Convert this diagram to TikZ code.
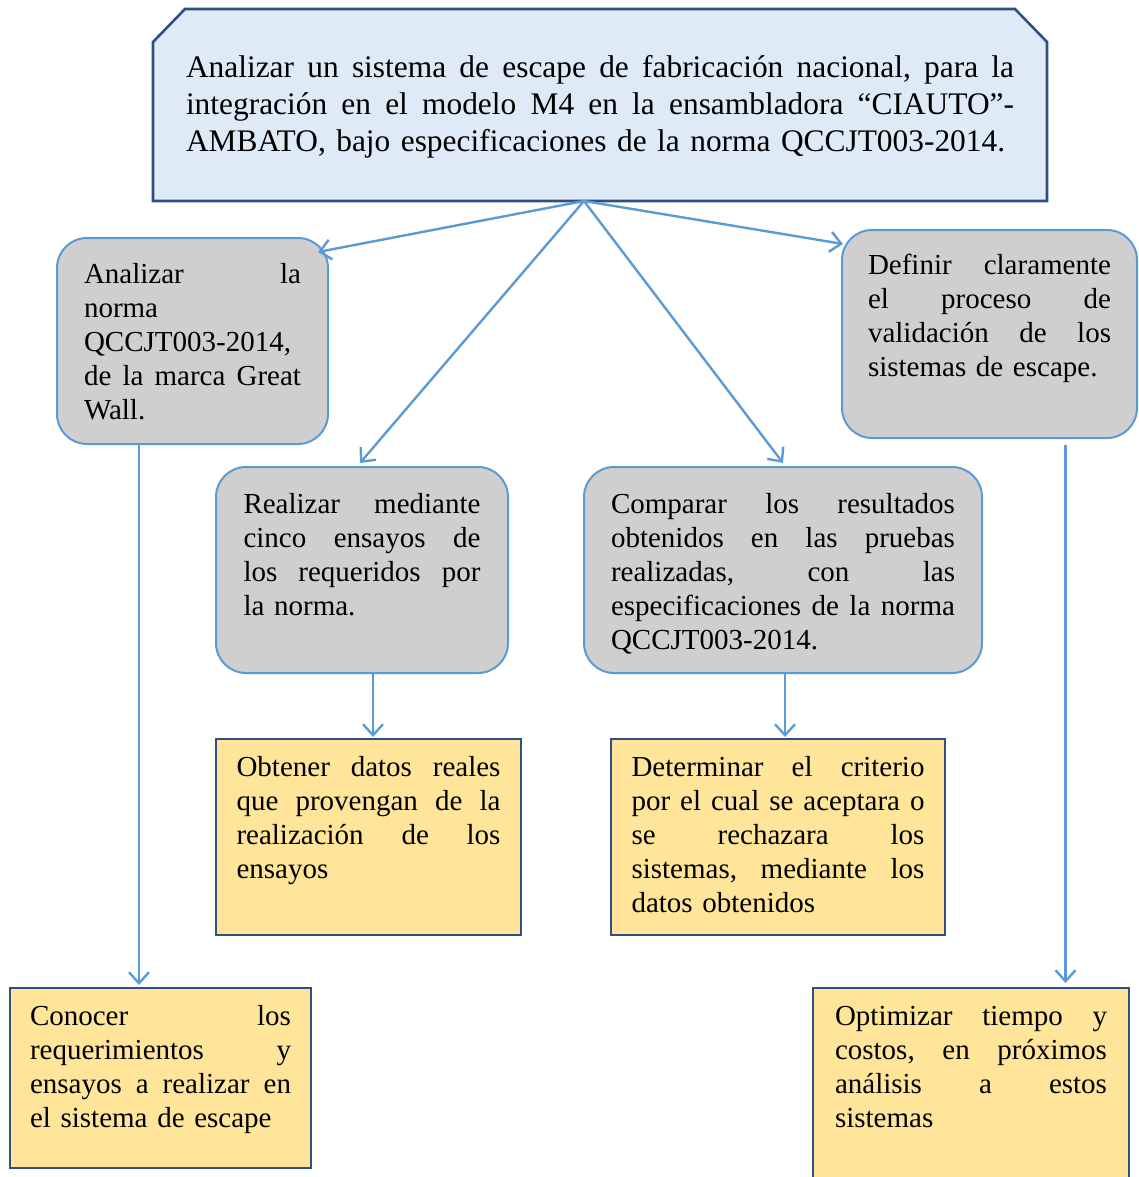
\documentclass[tikz,border=0pt]{standalone}
\usepackage{fontspec}
\setmainfont{Liberation Serif}
\usetikzlibrary{arrows.meta,backgrounds}

\definecolor{lineblue}{HTML}{5B9BD5}
\definecolor{navy}{HTML}{2F5085}
\definecolor{paleblue}{HTML}{DEEBF7}
\definecolor{greyfill}{HTML}{D0CECE}
\definecolor{sand}{HTML}{FFE599}

% one fully justified line of a box text; \lw holds the text width of the box
\def\lw{100pt}
\newcommand\jl[1]{\leavevmode\hbox to \lw{#1}}

\begin{document}
\begin{tikzpicture}[x=1pt,y=-1pt,
  tw/.style={text width=#1, execute at begin node={\def\lw{#1}}},
  txt/.style={anchor=north west, align=left, inner ysep=0pt, outer sep=0pt,
    font=\fontsize{29pt}{34pt}\selectfont},
  mainbox/.style={txt, font=\fontsize{31.4pt}{37pt}\selectfont},
  greybox/.style={txt, draw=lineblue, line width=2pt, fill=greyfill, rounded corners=30pt},
  sandbox/.style={txt, draw=navy, line width=2.6pt, fill=sand},
  arr/.style={draw=lineblue, line width=2.4pt, -{Straight Barb[length=11pt,width=20pt]}}
]
\useasboundingbox (0,0) rectangle (1138,1177);

% objective box
\node[mainbox, tw=828pt, inner xsep=33pt, text height=69pt, text depth=123pt] (top) at (153,9)
 {\jl{Analizar\hfill un\hfill sistema\hfill de\hfill escape\hfill de\hfill fabricación\hfill nacional,\hfill para\hfill la}\\
  \jl{integración\hfill en\hfill el\hfill modelo\hfill M4\hfill en\hfill la\hfill ensambladora\hfill “CIAUTO”-}\\
  AMBATO, bajo especificaciones de la norma QCCJT003-2014.};
\begin{scope}[on background layer]
  \path[draw=navy, line width=2.6pt, fill=paleblue, line join=miter]
    ([yshift=-33pt]top.north west) -- ([xshift=32pt]top.north west)
    -- ([xshift=-32pt]top.north east) -- ([yshift=-33pt]top.north east)
    -- (top.south east) -- (top.south west) -- cycle;
\end{scope}

% specific objectives
\node[greybox, tw=217pt, inner xsep=27pt, text height=45pt, text depth=161pt] (g1) at (57,238)
 {\jl{Analizar\hfill la}\\
  norma\\
  QCCJT003-2014,\\
  \jl{de\hfill la\hfill marca\hfill Great}\\
  Wall.};
\node[greybox, tw=243pt, inner xsep=26pt, text height=44pt, text depth=164pt] (g2) at (842,230)
 {\jl{Definir\hfill claramente}\\
  \jl{el\hfill proceso\hfill de}\\
  \jl{validación\hfill de\hfill los}\\
  sistemas de escape.};
\node[greybox, tw=237pt, inner xsep=27.5pt, text height=46pt, text depth=160pt] (g3) at (216,467)
 {\jl{Realizar\hfill mediante}\\
  \jl{cinco\hfill ensayos\hfill de}\\
  \jl{los\hfill requeridos\hfill por}\\
  la norma.};
\node[greybox, tw=344pt, inner xsep=27pt, text height=46pt, text depth=160pt] (g4) at (584,467)
 {\jl{Comparar\hfill los\hfill resultados}\\
  \jl{obtenidos\hfill en\hfill las\hfill pruebas}\\
  \jl{realizadas,\hfill con\hfill las}\\
  \jl{especificaciones\hfill de\hfill la\hfill norma}\\
  QCCJT003-2014.};

% expected results
\node[sandbox, tw=264pt, inner xsep=20.5pt, text height=37pt, text depth=159pt] (y1) at (216,739)
 {\jl{Obtener\hfill datos\hfill reales}\\
  \jl{que\hfill provengan\hfill de\hfill la}\\
  \jl{realización\hfill de\hfill los}\\
  ensayos};
\node[sandbox, tw=293pt, inner xsep=20.5pt, text height=37pt, text depth=159pt] (y2) at (611,739)
 {\jl{Determinar\hfill el\hfill criterio}\\
  \jl{por\hfill el\hfill cual\hfill se\hfill aceptara\hfill o}\\
  \jl{se\hfill rechazara\hfill los}\\
  \jl{sistemas,\hfill mediante\hfill los}\\
  datos obtenidos};
\node[sandbox, tw=261pt, inner xsep=20pt, text height=37pt, text depth=143pt] (y3) at (10,988)
 {\jl{Conocer\hfill los}\\
  \jl{requerimientos\hfill y}\\
  \jl{ensayos\hfill a\hfill realizar\hfill en}\\
  el sistema de escape};
\node[sandbox, tw=272pt, inner xsep=22pt, text height=37pt, text depth=200pt] (y4) at (813,988)
 {\jl{Optimizar\hfill tiempo\hfill y}\\
  \jl{costos,\hfill en\hfill próximos}\\
  \jl{análisis\hfill a\hfill estos}\\
  sistemas};

% connectors
\coordinate (src) at ([xshift=-16pt]top.south);
\draw[arr] (src) -- ([xshift=-10pt,yshift=-14pt]g1.north east);
\draw[arr] (src) -- ([xshift=1pt,yshift=-14pt]g2.north west);
\draw[arr] (src) -- ([xshift=-2pt,yshift=4pt]g3.north);
\draw[arr] (src) -- ([yshift=4pt]g4.north);
\draw[arr] ([xshift=-53.5pt]g1.south) -- ([xshift=-53.5pt,yshift=3pt]g1.south |- y3.north);
\draw[arr] ([xshift=11pt]g3.south) -- ([xshift=11pt,yshift=2pt]g3.south |- y1.north);
\draw[arr] ([xshift=2pt]g4.south) -- ([xshift=2pt,yshift=2pt]g4.south |- y2.north);
\draw[arr] ([xshift=76pt,yshift=-7pt]g2.south) -- ([xshift=76pt,yshift=5pt]g2.south |- y4.north);
\end{tikzpicture}
\end{document}
